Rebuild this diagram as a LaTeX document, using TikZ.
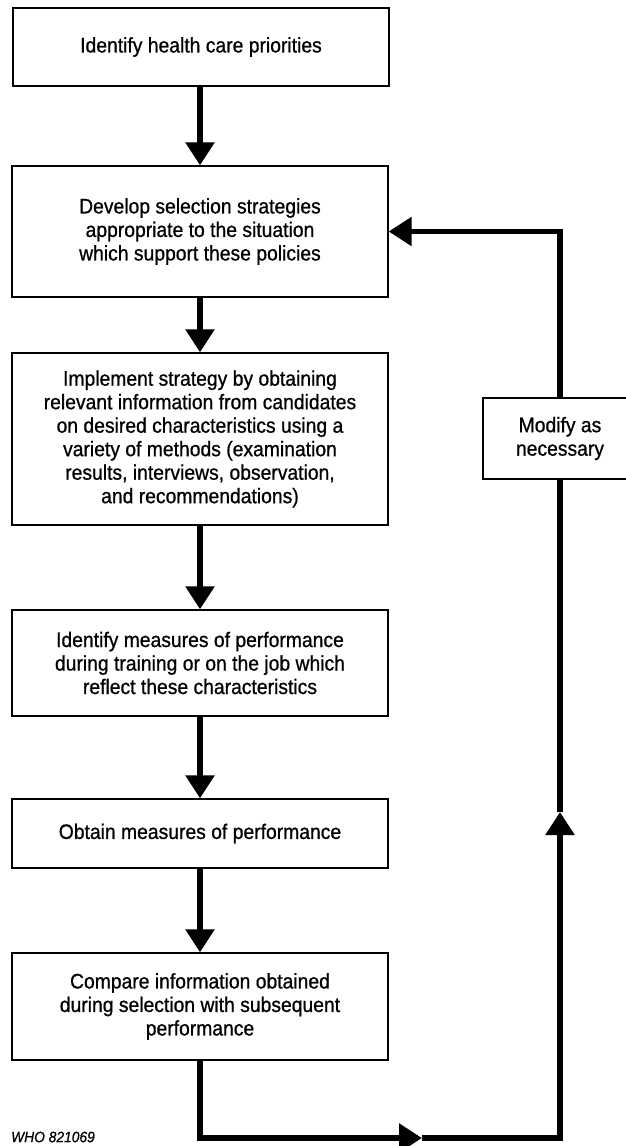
\documentclass[tikz,border=0pt]{standalone}
\usepackage{fontspec}
\setmainfont{Liberation Sans}[FakeStretch=0.92, FakeBold=0.8]
\usetikzlibrary{arrows.meta}
\begin{document}
\begin{tikzpicture}[x=1pt,y=-1pt,
  box/.style={draw, line width=1.3pt, fill=white, align=center, minimum width=376pt, inner sep=0pt, font=\fontsize{21}{23.5}\selectfont},
  flow/.style={line width=5.5pt, line join=miter, -{Triangle[width=28pt,length=23pt]}},
  note/.style={anchor=west, inner sep=0pt, font=\fontsize{15}{17}\selectfont\itshape}]
\useasboundingbox (0,0) rectangle (625,1146);
\node[box, minimum height=78pt] (b1) at (201,47) {Identify health care priorities};
\node[box, minimum height=131pt] (b2) at (200,231.5) {Develop selection strategies\\appropriate to the situation\\which support these policies};
\node[box, minimum height=172pt] (b3) at (200,439) {Implement strategy by obtaining\\relevant information from candidates\\on desired characteristics using a\\variety of methods (examination\\results, interviews, observation,\\and recommendations)};
\node[box, minimum height=106pt] (b4) at (200,663) {Identify measures of performance\\during training or on the job which\\reflect these characteristics};
\node[box, minimum height=69pt] (b5) at (200,833.5) {Obtain measures of performance};
\node[box, minimum height=107pt] (b6) at (200,1006.5) {Compare information obtained\\during selection with subsequent\\performance};
\draw[flow] (b1.south -| b2.north) -- (b2.north);
\draw[flow] (b2) -- (b3);
\draw[flow] (b3) -- (b4);
\draw[flow] (b4) -- (b5);
\draw[flow] (b5) -- (b6);
\coordinate (bl) at (200,1138);
\coordinate (m1) at (422,1138);
\coordinate (br) at (560,1138);
\coordinate (m2) at (560,812);
\coordinate (tr) at (560,231.5);
\draw[flow] (b6.south) -- (bl) -- (m1);
\draw[flow] (m1) -- (br) -- (m2);
\draw[flow] (m2) -- (tr) -- (b2.east);
\node[box, minimum width=154pt, minimum height=81pt] (mod) at (560,438.5) {Modify as\\necessary};
\node[note] (who) at (11,1137) {WHO 821069};
\end{tikzpicture}
\end{document}
